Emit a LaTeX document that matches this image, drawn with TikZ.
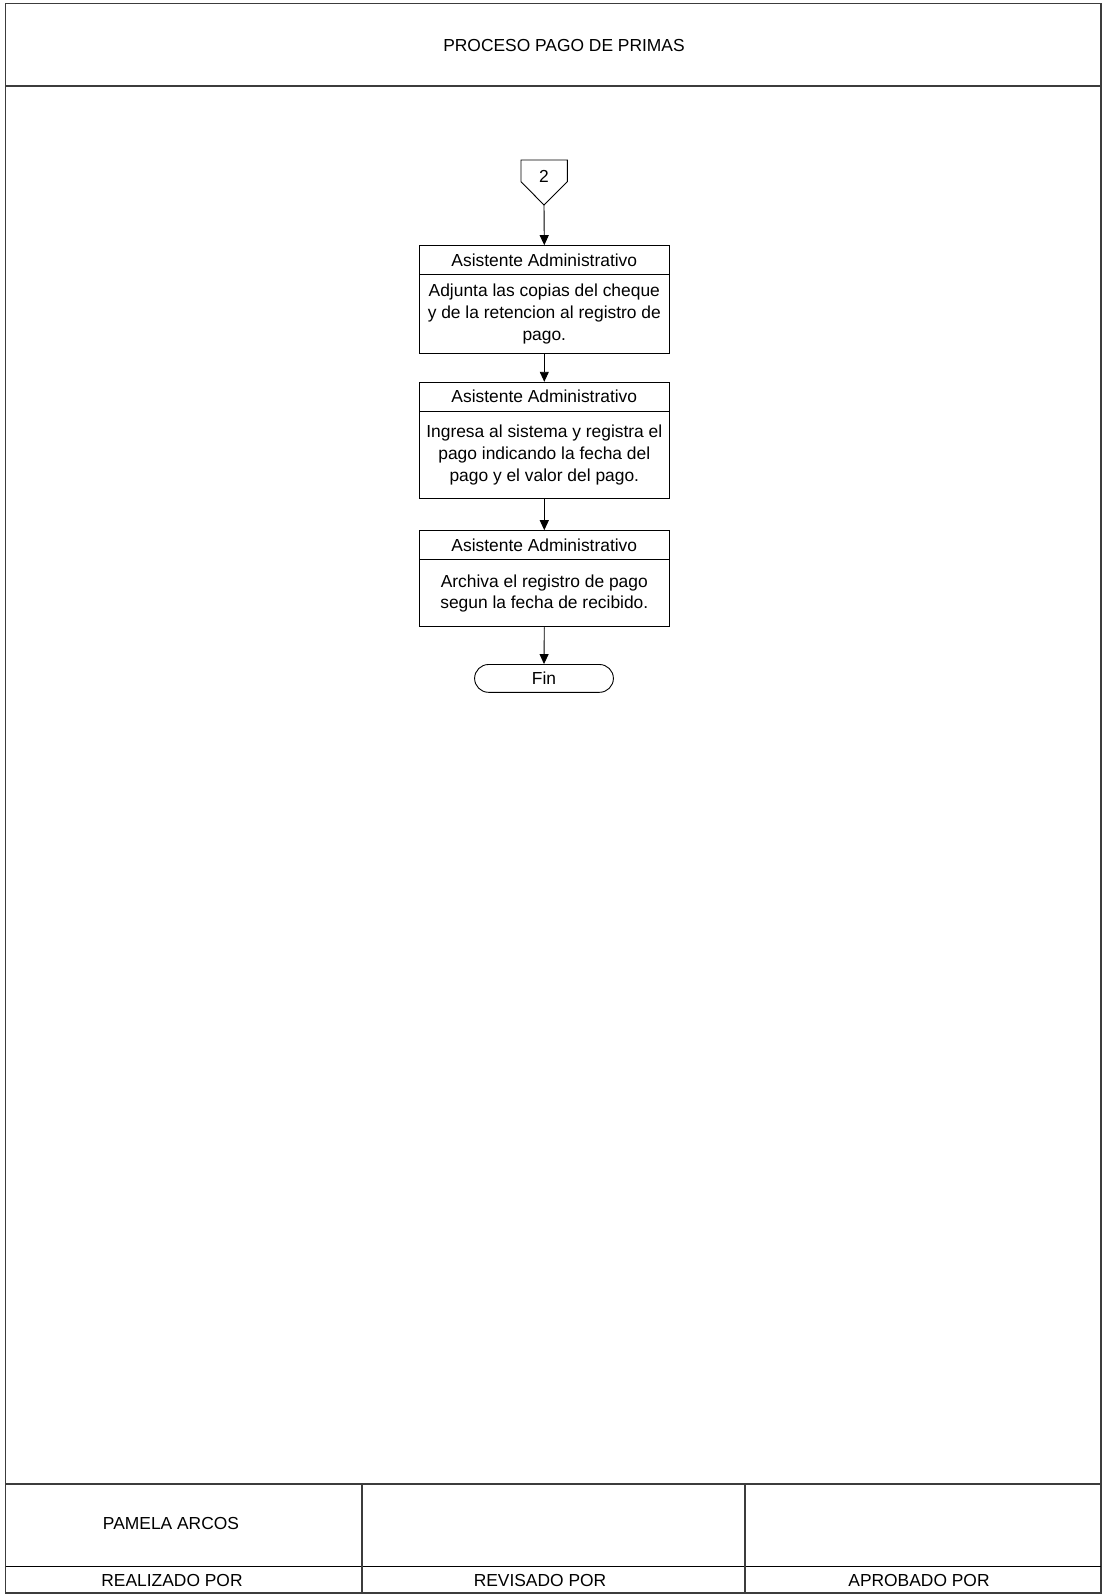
\documentclass[tikz,border=0pt]{standalone}
\usepackage{fontspec}
\setmainfont{Liberation Sans}
\usetikzlibrary{arrows.meta,positioning}
\definecolor{FrameGray}{HTML}{3C3C3C}

\begin{document}
\begin{tikzpicture}[x=1pt,y=-1pt,>={Triangle[width=9pt,length=10pt]},
  every node/.style={font=\fontsize{17.4}{21.7}\selectfont,inner sep=0pt},
  rolebox/.style={draw,line width=0.9pt,minimum width=250pt,minimum height=28.3pt},
  taskbox/.style={draw,line width=0.9pt,minimum width=250pt,align=center},
  flow/.style={->,line width=0.9pt}]
  \useasboundingbox (0,0) rectangle (1103,1595);
  % frame, header and signature rows
  \draw[FrameGray,line width=1.2pt] (5.5,3.7) rectangle (1101,1593);
  \draw[FrameGray,line width=1.2pt] (5.5,86) -- (1101,86);
  \draw[FrameGray,line width=1.2pt] (5.5,1484) -- (1101,1484);
  \draw[line width=1.2pt] (5.5,1566.7) -- (1101,1566.7);
  \draw[FrameGray,line width=1.2pt] (362,1484) -- (362,1593);
  \draw[FrameGray,line width=1.2pt] (745,1484) -- (745,1593);
  \node (title) at (564,46) {PROCESO PAGO DE PRIMAS};
  \node (autor) at (171,1523) {PAMELA ARCOS};
  \node (realizado) at (172,1580) {REALIZADO POR};
  \node (revisado) at (540,1580) {REVISADO POR};
  \node (aprobado) at (919,1580) {APROBADO POR};
  % off-page connector
  \draw[line width=0.9pt] (521,160) -- (567.3,160) -- (567.3,181.7) -- (544,205) -- (521,181.7) -- cycle;
  \node (c2) at (544,176) {2};
  \coordinate (c2tip) at (544,205);
  % tasks
  \node[rolebox] (h1) at (544.3,259.8) {Asistente Administrativo};
  \node[taskbox,minimum height=78.3pt,below=0pt of h1] (b1)
    {Adjunta las copias del cheque\\y de la retencion al registro de\\pago.};
  \node[rolebox,minimum height=28.7pt] (h2) at (544.3,396.6) {Asistente Administrativo};
  \node[taskbox,minimum height=86.3pt,below=0pt of h2] (b2)
    {Ingresa al sistema y registra el\\pago indicando la fecha del\\pago y el valor del pago.};
  \node[rolebox] (h3) at (544.3,544.8) {Asistente Administrativo};
  \node[taskbox,minimum height=67pt,below=0pt of h3] (b3)
    {Archiva el registro de pago\\segun la fecha de recibido.};
  \node[draw,line width=0.9pt,rounded corners=13.9pt,minimum width=138.8pt,
    minimum height=27.8pt] (fin) at (544,678.4) {Fin};
  \draw[flow] (c2tip) -- (h1.north);
  \draw[flow] (b1.south) -- (h2.north);
  \draw[flow] (b2.south) -- (h3.north);
  \draw[flow] (b3.south) -- (fin.north);
\end{tikzpicture}
\end{document}
